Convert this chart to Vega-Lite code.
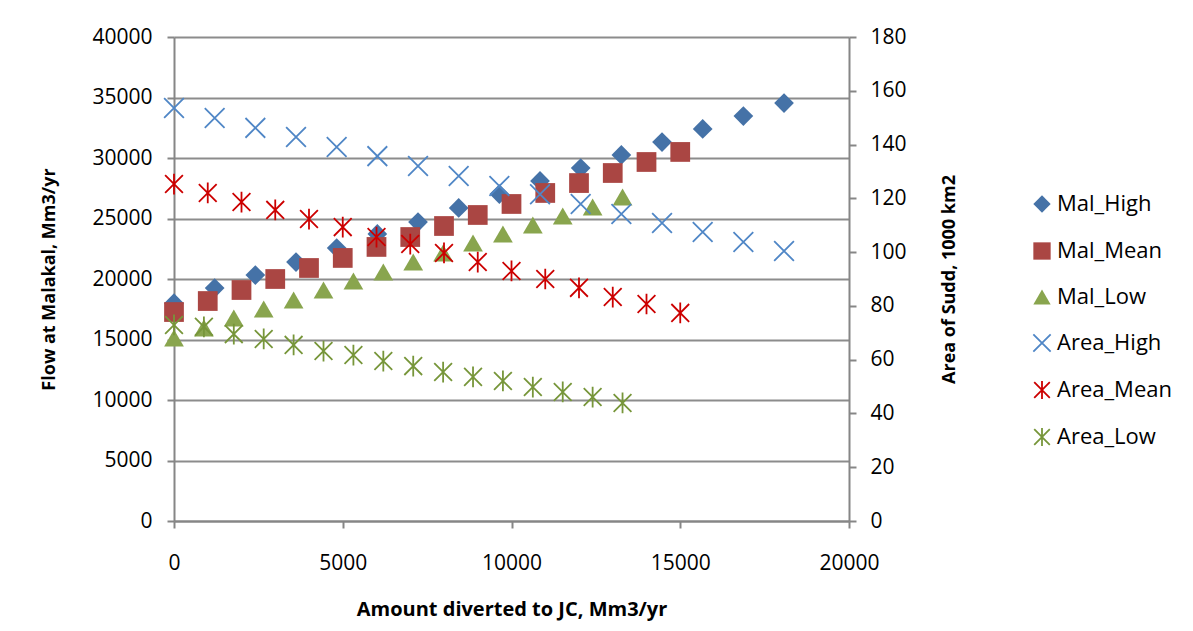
{
  "$schema": "https://vega.github.io/schema/vega-lite/v6.json",
  "width": 675,
  "height": 484,
  "autosize": {"type": "none"},
  "padding": {"left": 174, "top": 37, "right": 344, "bottom": 110},
  "background": "white",
  "config": {
    "view": {"stroke": null},
    "font": "Open Sans",
    "axis": {
      "labelFont": "Open Sans",
      "labelFontSize": 21,
      "labelColor": "#000000",
      "titleFont": "Open Sans",
      "titleFontSize": 18,
      "titleFontWeight": "bold",
      "titleColor": "#000000",
      "domainColor": "#868686",
      "domainWidth": 2,
      "tickColor": "#868686",
      "tickWidth": 2,
      "tickSize": 7,
      "gridColor": "#8c8c8c",
      "gridWidth": 2
    },
    "legend": {
      "labelFont": "Open Sans",
      "labelFontSize": 22,
      "labelColor": "#000000"
    }
  },
  "data": {
    "values": [
      {"s": "Mal_High", "x": 0, "v": 18000},
      {"s": "Mal_High", "x": 1205, "v": 19250},
      {"s": "Mal_High", "x": 2410, "v": 20330},
      {"s": "Mal_High", "x": 3615, "v": 21400},
      {"s": "Mal_High", "x": 4820, "v": 22560},
      {"s": "Mal_High", "x": 6025, "v": 23720},
      {"s": "Mal_High", "x": 7230, "v": 24710},
      {"s": "Mal_High", "x": 8435, "v": 25870},
      {"s": "Mal_High", "x": 9640, "v": 27020},
      {"s": "Mal_High", "x": 10845, "v": 28100},
      {"s": "Mal_High", "x": 12050, "v": 29170},
      {"s": "Mal_High", "x": 13255, "v": 30250},
      {"s": "Mal_High", "x": 14460, "v": 31320},
      {"s": "Mal_High", "x": 15665, "v": 32400},
      {"s": "Mal_High", "x": 16870, "v": 33470},
      {"s": "Mal_High", "x": 18075, "v": 34540},
      {"s": "Mal_Mean", "x": 0, "v": 17270},
      {"s": "Mal_Mean", "x": 1000, "v": 18180},
      {"s": "Mal_Mean", "x": 2000, "v": 19090},
      {"s": "Mal_Mean", "x": 3000, "v": 20000},
      {"s": "Mal_Mean", "x": 4000, "v": 20910},
      {"s": "Mal_Mean", "x": 5000, "v": 21740},
      {"s": "Mal_Mean", "x": 6000, "v": 22650},
      {"s": "Mal_Mean", "x": 7000, "v": 23470},
      {"s": "Mal_Mean", "x": 8000, "v": 24380},
      {"s": "Mal_Mean", "x": 9000, "v": 25290},
      {"s": "Mal_Mean", "x": 10000, "v": 26200},
      {"s": "Mal_Mean", "x": 11000, "v": 27110},
      {"s": "Mal_Mean", "x": 12000, "v": 27930},
      {"s": "Mal_Mean", "x": 13000, "v": 28760},
      {"s": "Mal_Mean", "x": 14000, "v": 29670},
      {"s": "Mal_Mean", "x": 15000, "v": 30500},
      {"s": "Mal_Low", "x": 0, "v": 15120},
      {"s": "Mal_Low", "x": 886, "v": 15950},
      {"s": "Mal_Low", "x": 1772, "v": 16780},
      {"s": "Mal_Low", "x": 2658, "v": 17520},
      {"s": "Mal_Low", "x": 3544, "v": 18260},
      {"s": "Mal_Low", "x": 4430, "v": 19090},
      {"s": "Mal_Low", "x": 5316, "v": 19840},
      {"s": "Mal_Low", "x": 6202, "v": 20580},
      {"s": "Mal_Low", "x": 7088, "v": 21400},
      {"s": "Mal_Low", "x": 7974, "v": 22150},
      {"s": "Mal_Low", "x": 8860, "v": 22980},
      {"s": "Mal_Low", "x": 9746, "v": 23720},
      {"s": "Mal_Low", "x": 10632, "v": 24460},
      {"s": "Mal_Low", "x": 11518, "v": 25210},
      {"s": "Mal_Low", "x": 12404, "v": 25950},
      {"s": "Mal_Low", "x": 13290, "v": 26780},
      {"s": "Area_High", "x": 0, "v": 153.6},
      {"s": "Area_High", "x": 1205, "v": 149.9},
      {"s": "Area_High", "x": 2410, "v": 146.2},
      {"s": "Area_High", "x": 3615, "v": 142.8},
      {"s": "Area_High", "x": 4820, "v": 139.1},
      {"s": "Area_High", "x": 6025, "v": 135.7},
      {"s": "Area_High", "x": 7230, "v": 132.0},
      {"s": "Area_High", "x": 8435, "v": 128.3},
      {"s": "Area_High", "x": 9640, "v": 124.6},
      {"s": "Area_High", "x": 10845, "v": 121.5},
      {"s": "Area_High", "x": 12050, "v": 117.9},
      {"s": "Area_High", "x": 13255, "v": 114.2},
      {"s": "Area_High", "x": 14460, "v": 110.8},
      {"s": "Area_High", "x": 15665, "v": 107.5},
      {"s": "Area_High", "x": 16870, "v": 103.8},
      {"s": "Area_High", "x": 18075, "v": 100.4},
      {"s": "Area_Mean", "x": 0, "v": 125.3},
      {"s": "Area_Mean", "x": 1000, "v": 122.0},
      {"s": "Area_Mean", "x": 2000, "v": 118.6},
      {"s": "Area_Mean", "x": 3000, "v": 115.7},
      {"s": "Area_Mean", "x": 4000, "v": 112.3},
      {"s": "Area_Mean", "x": 5000, "v": 109.3},
      {"s": "Area_Mean", "x": 6000, "v": 105.6},
      {"s": "Area_Mean", "x": 7000, "v": 103.0},
      {"s": "Area_Mean", "x": 8000, "v": 99.7},
      {"s": "Area_Mean", "x": 9000, "v": 96.3},
      {"s": "Area_Mean", "x": 10000, "v": 93.0},
      {"s": "Area_Mean", "x": 11000, "v": 90.0},
      {"s": "Area_Mean", "x": 12000, "v": 86.7},
      {"s": "Area_Mean", "x": 13000, "v": 83.3},
      {"s": "Area_Mean", "x": 14000, "v": 80.7},
      {"s": "Area_Mean", "x": 15000, "v": 77.4},
      {"s": "Area_Low", "x": 0, "v": 72.9},
      {"s": "Area_Low", "x": 886, "v": 72.2},
      {"s": "Area_Low", "x": 1772, "v": 69.5},
      {"s": "Area_Low", "x": 2658, "v": 67.7},
      {"s": "Area_Low", "x": 3544, "v": 65.5},
      {"s": "Area_Low", "x": 4430, "v": 63.2},
      {"s": "Area_Low", "x": 5316, "v": 61.7},
      {"s": "Area_Low", "x": 6202, "v": 59.5},
      {"s": "Area_Low", "x": 7088, "v": 57.6},
      {"s": "Area_Low", "x": 7974, "v": 55.4},
      {"s": "Area_Low", "x": 8860, "v": 53.6},
      {"s": "Area_Low", "x": 9746, "v": 52.1},
      {"s": "Area_Low", "x": 10632, "v": 49.8},
      {"s": "Area_Low", "x": 11518, "v": 48.0},
      {"s": "Area_Low", "x": 12404, "v": 46.1},
      {"s": "Area_Low", "x": 13290, "v": 43.9}
    ]
  },
  "encoding": {
    "x": {
      "field": "x",
      "type": "quantitative",
      "scale": {"domain": [0, 20000], "nice": false, "zero": false},
      "axis": {
        "title": "Amount diverted to JC, Mm3/yr",
        "format": "d",
        "values": [0, 5000, 10000, 15000, 20000],
        "grid": false,
        "labelPadding": 24,
        "titlePadding": 26,
        "titleFontSize": 20,
        "labelFlush": false
      }
    },
    "fill": {
      "field": "s",
      "type": "nominal",
      "scale": {
        "domain": ["Mal_High", "Mal_Mean", "Mal_Low", "Area_High", "Area_Mean", "Area_Low"],
        "range": ["#4572A7", "#AA4643", "#89A54E", "transparent", "transparent", "transparent"]
      },
      "legend": {
        "title": null,
        "orient": "none",
        "legendX": 857,
        "legendY": 156,
        "symbolSize": 300,
        "symbolStrokeWidth": 1.8,
        "rowPadding": 21,
        "labelOffset": 4
      }
    },
    "stroke": {
      "field": "s",
      "type": "nominal",
      "scale": {
        "domain": ["Mal_High", "Mal_Mean", "Mal_Low", "Area_High", "Area_Mean", "Area_Low"],
        "range": ["transparent", "transparent", "transparent", "#4F86C6", "#CC0000", "#77963A"]
      },
      "legend": {
        "title": null,
        "orient": "none",
        "legendX": 857,
        "legendY": 156,
        "symbolSize": 300,
        "symbolStrokeWidth": 1.8,
        "rowPadding": 21,
        "labelOffset": 4
      }
    },
    "shape": {
      "field": "s",
      "type": "nominal",
      "scale": {
        "domain": ["Mal_High", "Mal_Mean", "Mal_Low", "Area_High", "Area_Mean", "Area_Low"],
        "range": ["diamond", "square", "triangle-up", "M-1,-1L1,1M-1,1L1,-1", "M-0.9,-0.9L0.9,0.9M-0.9,0.9L0.9,-0.9M0,-1.05L0,1.05", "M-0.9,-0.9L0.9,0.9M-0.9,0.9L0.9,-0.9M0,-1.05L0,1.05"]
      },
      "legend": {
        "title": null,
        "orient": "none",
        "legendX": 857,
        "legendY": 156,
        "symbolSize": 300,
        "symbolStrokeWidth": 1.8,
        "rowPadding": 21,
        "labelOffset": 4
      }
    }
  },
  "layer": [
    {
      "transform": [{"filter": {"field": "s", "oneOf": ["Mal_High", "Mal_Mean", "Mal_Low"]}}],
      "mark": {"type": "point", "size": 390, "opacity": 1, "strokeWidth": 1.8},
      "encoding": {
        "y": {
          "field": "v",
          "type": "quantitative",
          "scale": {"domain": [0, 40000], "nice": false},
          "axis": {
            "title": "Flow at Malakal,  Mm3/yr",
            "format": "d",
            "orient": "left",
            "values": [0, 5000, 10000, 15000, 20000, 25000, 30000, 35000, 40000],
            "grid": true,
            "labelPadding": 15,
            "titlePadding": 33
          }
        }
      }
    },
    {
      "transform": [{"filter": {"field": "s", "oneOf": ["Area_High", "Area_Mean", "Area_Low"]}}],
      "mark": {"type": "point", "size": 390, "opacity": 1, "strokeWidth": 1.8},
      "encoding": {
        "y": {
          "field": "v",
          "type": "quantitative",
          "scale": {"domain": [0, 180], "nice": false},
          "axis": {
            "title": "Area of Sudd, 1000 km2",
            "format": "d",
            "orient": "right",
            "values": [0, 20, 40, 60, 80, 100, 120, 140, 160, 180],
            "grid": false,
            "labelPadding": 14,
            "titlePadding": 52,
            "titleAngle": 270
          }
        }
      }
    }
  ],
  "resolve": {"scale": {"y": "independent"}}
}
